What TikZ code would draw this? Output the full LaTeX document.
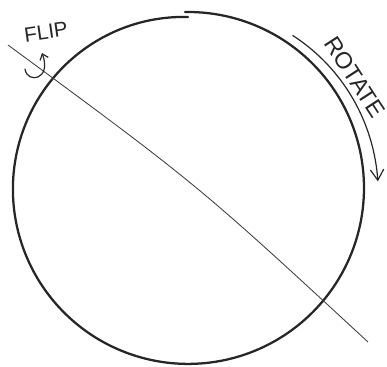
\documentclass[tikz,border=0pt]{standalone}
\usepackage{fontspec}
\setmainfont{Liberation Sans}
\usetikzlibrary{arrows.meta}
\begin{document}
\begin{tikzpicture}[x=0.75pt,y=-0.75pt,
  rim/.style={line width=1.7pt, draw=black!85, line cap=round},
  axisline/.style={line width=0.65pt, draw=black!75},
  hand/.style={line width=0.9pt, draw=black!85, line cap=round},
  lbl/.style={inner sep=0pt, text=black!85}]
\useasboundingbox (0,0) rectangle (387,367);
% hand-drawn circle (slight spiral, ends just inside its start)
\draw[rim] plot[domain=91:-270, samples=240, smooth]
  ({188+(176-5*((91-\x)/361)^6)*cos(\x)},{188-(176-5*((91-\x)/361)^6)*sin(\x)});
% axis of flipping
\coordinate (a) at (8,45);
\coordinate (ac) at (198,185);
\coordinate (b) at (368,342);
\draw[axisline] (a) .. controls (ac) .. (b);
% flip label and curled arrow
\node[lbl, font=\fontsize{15.5}{15.5}\selectfont, rotate=8] (flip) at (46,32) {FLIP};
\coordinate (f1) at (25,69);
\coordinate (f2) at (42,53);
\draw[hand, -{Straight Barb[length=4pt,width=6.5pt]}] (f1) .. controls (27,84) and (52,80) .. (f2);
% rotate arrow
\draw[hand, -{Straight Barb[length=8pt,width=10pt]}] plot[domain=55.5:2, samples=60, smooth]
  ({188+(185+5*(55.5-\x)/53.5)*cos(\x)},{188-(185+5*(55.5-\x)/53.5)*sin(\x)});
\node[lbl, font=\fontsize{17.5}{17.5}\selectfont, rotate=-57] (rot) at (355,77) {ROTATE};
\end{tikzpicture}
\end{document}
